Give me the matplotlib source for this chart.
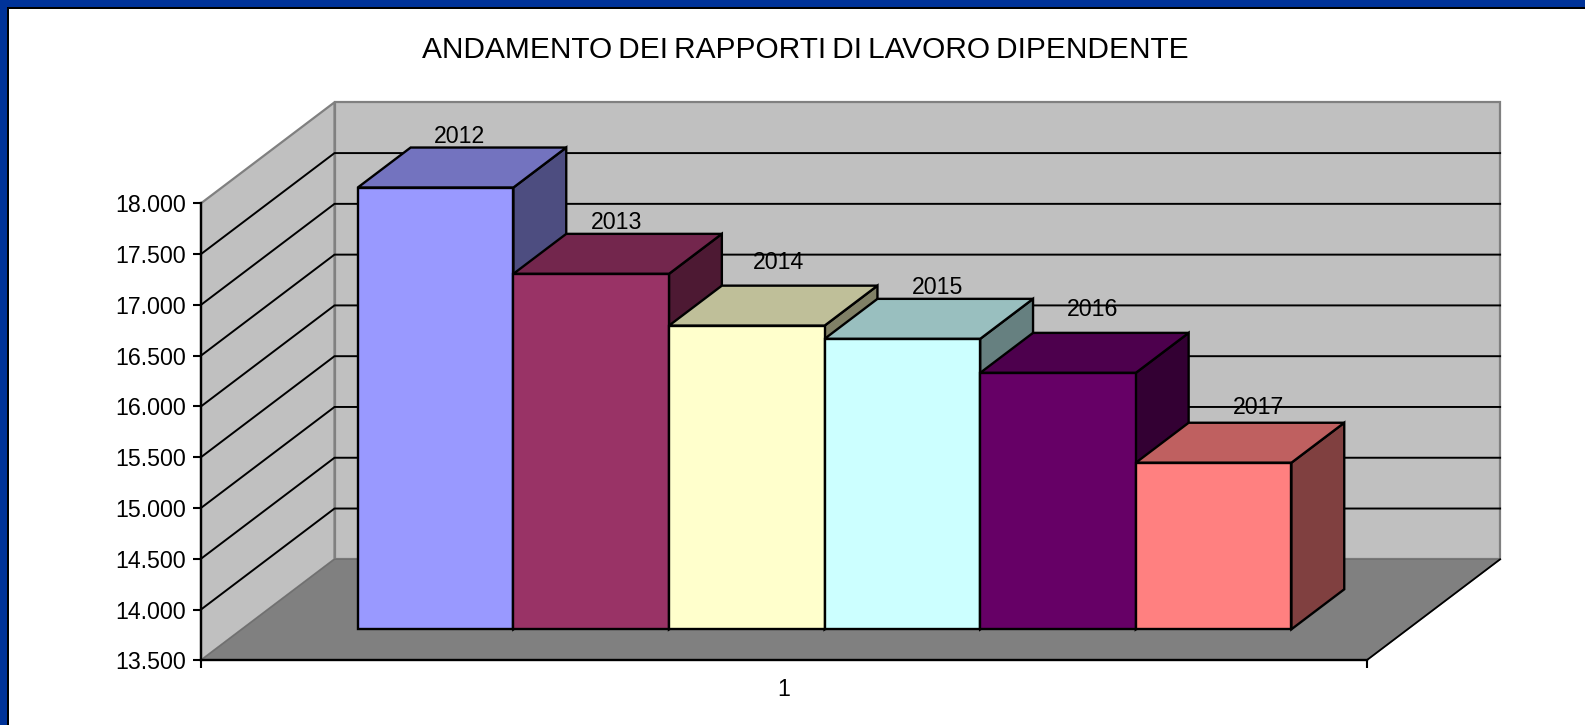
import matplotlib
matplotlib.use("Agg")
import matplotlib.pyplot as plt
from matplotlib.patches import Polygon, Rectangle
from matplotlib.ticker import FuncFormatter

plt.rcParams['font.family'] = ['Liberation Sans', 'DejaVu Sans']

title = "ANDAMENTO DEI RAPPORTI DI LAVORO DIPENDENTE"
years = ["2012", "2013", "2014", "2015", "2016", "2017"]
values = [17850, 17000, 16490, 16360, 16025, 15140]
front_colors = ["#9999FF", "#993366", "#FFFFCC", "#CCFFFF", "#660066", "#FF8080"]
top_colors = ["#7373BF", "#73264D", "#BFBF99", "#99BFBF", "#4D004D", "#BF6060"]
side_colors = ["#4D4D80", "#4D1933", "#808066", "#668080", "#330033", "#804040"]
y_ticks = [13500, 14000, 14500, 15000, 15500, 16000, 16500, 17000, 17500, 18000]
category = "1"

label_dx = [24, 25, 31, 35, 34, 44]
label_dy = [50, 51, 62, 51, 63, 55]

W, H = 1585, 725
fig = plt.figure(figsize=(W / 100, H / 100), dpi=100, facecolor="white")

# plot front plane, in pixels of the figure
L, R, B, T = 201.0, 1366.6, 660.3, 203.3
ax = fig.add_axes([L / W, 1 - B / H, (R - L) / W, (B - T) / H])
ymin, ymax = 13500, 18000
ax.set_xlim(0, 1)
ax.set_ylim(ymin, ymax)
ax.patch.set_visible(False)

px_x = 1.0 / (R - L)
px_y = (ymax - ymin) / (B - T)
DX = 133.5 * px_x
DY = 101.0 * px_y


def proj(x, y, d):
    return (x + d * DX, y + d * DY)


def poly(pts, **kw):
    kw.setdefault("clip_on", False)
    ax.add_patch(Polygon([proj(*p) for p in pts], closed=True, joinstyle="miter", **kw))


# walls and floor
poly([(0, ymin, 1), (1, ymin, 1), (1, ymax, 1), (0, ymax, 1)],
     facecolor="#C0C0C0", edgecolor="#808080", linewidth=1.6, zorder=1)
poly([(0, ymin, 0), (0, ymax, 0), (0, ymax, 1), (0, ymin, 1)],
     facecolor="#C0C0C0", edgecolor="#808080", linewidth=1.6, zorder=1)
poly([(0, ymin, 0), (1, ymin, 0), (1, ymin, 1), (0, ymin, 1)],
     facecolor="#808080", edgecolor="#707070", linewidth=1.0, zorder=1.5)

# gridlines (the top one is the wall edge)
for v in y_ticks[1:-1]:
    x0, y0 = proj(0, v, 0)
    x1, y1 = proj(0, v, 1)
    x2, y2 = proj(1, v, 1)
    ax.plot([x0, x1, x2], [y0, y1, y2], color="black", lw=1.4, clip_on=False,
            zorder=2, solid_joinstyle="miter")
x0, y0 = proj(1, ymin, 0)
x1, y1 = proj(1, ymin, 1)
ax.plot([x0, x1], [y0, y1], color="black", lw=1.3, clip_on=False, zorder=2)

# bars
n = len(values)
bar_w = 155.6 * px_x
x_start = (1 - n * bar_w) / 2 - 0.2 * px_x
d0, d1 = 31.0 / 101.0, 71.0 / 101.0
bar_lw = 1.7
for i, v in enumerate(values):
    x0 = x_start + i * bar_w
    x1 = x0 + bar_w
    z = 3 + i * 0.1
    style = dict(edgecolor="black", linewidth=bar_lw, zorder=z)
    poly([(x1, ymin, d0), (x1, ymin, d1), (x1, v, d1), (x1, v, d0)],
         facecolor=side_colors[i], **style)
    poly([(x0, v, d0), (x1, v, d0), (x1, v, d1), (x0, v, d1)],
         facecolor=top_colors[i], **style)
    poly([(x0, ymin, d0), (x1, ymin, d0), (x1, v, d0), (x0, v, d0)],
         facecolor=front_colors[i], **style)
    ax.annotate(years[i], xy=proj((x0 + x1) / 2, v, d0), xycoords="data",
                xytext=(label_dx[i] * 1.0108 * 0.72, label_dy[i] * 1.0108 * 0.72),
                textcoords="offset points", ha="center", va="center",
                fontsize=16.7, color="black", zorder=10, annotation_clip=False)

# axes
for s in ("top", "right"):
    ax.spines[s].set_visible(False)
for s in ("left", "bottom"):
    ax.spines[s].set_linewidth(1.7)
    ax.spines[s].set_zorder(2.5)
ax.set_yticks(y_ticks)
ax.yaxis.set_major_formatter(FuncFormatter(lambda v, p: f"{int(v):,}".replace(",", ".")))
ax.tick_params(axis="y", length=6, width=1.5, labelsize=16.7, pad=5)
ax.set_xticks([0, 1], ["", ""])
ax.tick_params(axis="x", which="major", length=6, width=1.5)
ax.set_xticks([0.5], [category], minor=True)
ax.tick_params(axis="x", which="minor", length=0, labelsize=16.7, pad=13)

# the reference title has very narrow word gaps
fig.text(805.5 / W, 1 - 50.5 / H, title.replace(" ", "\u2009"), ha="center", va="center",
         fontsize=21.5, color="black")

# slide frame: top and left only
blue = "#003399"
frame = [
    (0, 0, W, 7, blue), (0, 0, 7, H, blue),
    (7, 7, W - 7, 2, "black"), (7, 7, 2, H - 7, "black"),
]
for x, y, w, h, c in frame:
    fig.add_artist(Rectangle((x / W, 1 - (y + h) / H), w / W, h / H,
                             transform=fig.transFigure, facecolor=c, edgecolor="none"))

fig.savefig("out.png", dpi=100, facecolor="white")
